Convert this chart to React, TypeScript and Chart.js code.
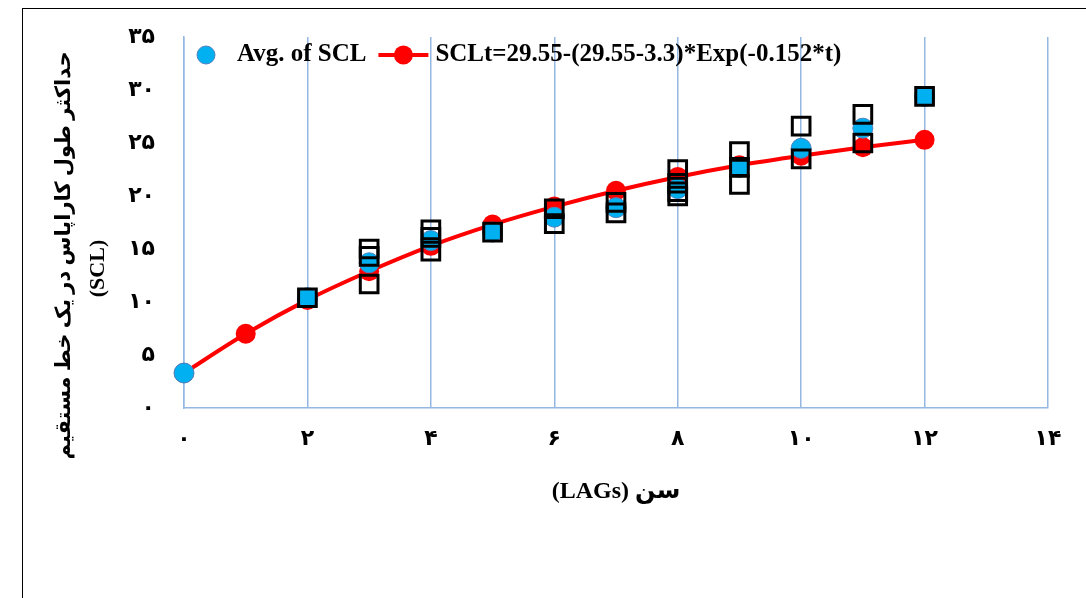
import React, { useEffect, useRef } from 'react';
import { Chart, registerables } from 'chart.js';

Chart.register(...registerables);

// ---- data ----
const avgAge = [0, 2, 3, 4, 5, 6, 7, 8, 9, 10, 11, 12];
const avgSCL = [3.3, 10.4, 13.7, 15.8, 16.6, 18.0, 18.9, 20.7, 22.7, 24.5, 26.4, 29.4];

const fitAge = [0, 1, 2, 3, 4, 5, 6, 7, 8, 9, 10, 11, 12];
const fitSCL = [3.3, 7.0, 10.2, 12.9, 15.3, 17.3, 19.0, 20.5, 21.8, 22.9, 23.8, 24.6, 25.3];

const obsAge = [2, 3, 3, 3, 4, 4, 4, 5, 6, 6, 7, 7, 8, 8, 8, 8, 9, 9, 9, 10, 10, 11, 11, 12];
const obsSCL = [10.4, 15.0, 14.3, 11.7, 16.8, 16.1, 14.8, 16.6, 18.8, 17.4, 19.4, 18.4, 22.5, 21.2, 20.4, 20.0, 24.2, 22.7, 21.1, 26.6, 23.5, 27.7, 25.0, 29.4];

const xTickLabels = ['۰', '۲', '۴', '۶', '۸', '۱۰', '۱۲', '۱۴'];
const yTickLabels = ['۰', '۵', '۱۰', '۱۵', '۲۰', '۲۵', '۳۰', '۳۵'];

const legendLabels = ['Avg. of SCL', 'SCLt=29.55-(29.55-3.3)*Exp(-0.152*t)'];
const xTitle = '\u202Bسن (LAGs)\u202C';
const yTitleLines = ['حداکثر طول کاراپاس در یک خط مستقیم', '(SCL)'];

const BLUE = '#00B0F0';
const BLUE_EDGE = '#4F81BD';
const RED = '#FF0000';
const GRID = '#95B8E3';
const FONT = "'Liberation Serif', 'DejaVu Sans', serif";

const legendPlugin = {
  id: 'customLegend',
  afterDraw(chart: any) {
    const { ctx, chartArea } = chart;
    const y = chartArea.top + 18;
    let x = chartArea.left + 22;
    ctx.save();
    ctx.beginPath();
    ctx.arc(x, y, 9, 0, Math.PI * 2);
    ctx.fillStyle = BLUE;
    ctx.fill();
    ctx.lineWidth = 1;
    ctx.strokeStyle = BLUE_EDGE;
    ctx.stroke();
    ctx.font = `bold 25px ${FONT}`;
    ctx.fillStyle = '#000';
    ctx.textBaseline = 'middle';
    ctx.textAlign = 'left';
    x += 31;
    ctx.fillText(legendLabels[0], x, y);
    x += ctx.measureText(legendLabels[0]).width + 12;
    ctx.beginPath();
    ctx.moveTo(x, y);
    ctx.lineTo(x + 50, y);
    ctx.strokeStyle = RED;
    ctx.lineWidth = 4;
    ctx.stroke();
    ctx.beginPath();
    ctx.arc(x + 25, y, 9.5, 0, Math.PI * 2);
    ctx.fillStyle = RED;
    ctx.fill();
    x += 57;
    ctx.fillStyle = '#000';
    ctx.fillText(legendLabels[1], x, y);
    ctx.restore();
  },
};

const yTitlePlugin = {
  id: 'yTitle',
  afterDraw(chart: any) {
    const { ctx, chartArea } = chart;
    const cy = (chartArea.top + chartArea.bottom) / 2;
    ctx.save();
    ctx.fillStyle = '#000';
    ctx.textAlign = 'center';
    ctx.textBaseline = 'middle';
    ctx.font = `bold 21px ${FONT}`;
    ctx.translate(chartArea.left - 119, cy + 33);
    ctx.rotate(-Math.PI / 2);
    ctx.fillText(yTitleLines[0], 0, 0);
    ctx.restore();
    ctx.save();
    ctx.fillStyle = '#000';
    ctx.textAlign = 'center';
    ctx.textBaseline = 'middle';
    ctx.font = `bold 22px ${FONT}`;
    ctx.translate(chartArea.left - 86, cy + 46);
    ctx.rotate(-Math.PI / 2);
    ctx.fillText(yTitleLines[1], 0, 0);
    ctx.restore();
  },
};

export default function App() {
  const ref = useRef<HTMLCanvasElement | null>(null);

  useEffect(() => {
    if (!ref.current) return;
    const chart = new Chart(ref.current, {
      type: 'scatter',
      data: {
        datasets: [
          {
            label: 'obs',
            data: obsAge.map((a, i) => ({ x: a, y: obsSCL[i] })),
            pointStyle: 'rect',
            pointRadius: 12.5,
            backgroundColor: 'rgba(0,0,0,0)',
            borderColor: '#000',
            borderWidth: 3,
            clip: false,
            order: 0,
          },
          {
            label: legendLabels[0],
            data: avgAge.map((a, i) => ({ x: a, y: avgSCL[i] })),
            pointStyle: 'circle',
            pointRadius: 10,
            backgroundColor: BLUE,
            borderColor: BLUE_EDGE,
            borderWidth: 1,
            clip: false,
            order: 1,
          },
          {
            label: legendLabels[1],
            type: 'line',
            data: fitAge.map((a, i) => ({ x: a, y: fitSCL[i] })),
            showLine: true,
            borderColor: RED,
            borderWidth: 4,
            backgroundColor: RED,
            pointBackgroundColor: RED,
            pointBorderColor: RED,
            pointRadius: 10,
            pointBorderWidth: 0,
            cubicInterpolationMode: 'monotone',
            clip: false,
            order: 2,
          } as any,
        ],
      },
      options: {
        animation: false,
        responsive: true,
        maintainAspectRatio: false,
        layout: { padding: { left: 0, right: 38, top: 37, bottom: 90 } },
        plugins: {
          legend: { display: false },
          tooltip: { enabled: false },
        },
        scales: {
          x: {
            type: 'linear',
            min: 0,
            max: 14,
            ticks: {
              stepSize: 2,
              padding: 18,
              color: '#000',
              font: { family: FONT, size: 22, weight: 'bold' },
              callback: (_v: any, i: number) => xTickLabels[i],
            },
            grid: { display: true, color: GRID, lineWidth: 1.5, drawTicks: false },
            border: { display: true, color: GRID, width: 1.5 },
            title: {
              display: true,
              text: xTitle,
              color: '#000',
              font: { family: FONT, size: 24, weight: 'bold' },
              padding: { top: 0, bottom: 2 },
            },
            afterFit: (s: any) => {
              s.height = 100;
              s.paddingLeft = 0;
              s.paddingRight = 0;
            },
          },
          y: {
            type: 'linear',
            min: 0,
            max: 35,
            ticks: {
              stepSize: 5,
              padding: 29,
              color: '#000',
              font: { family: FONT, size: 22, weight: 'bold' },
              callback: (_v: any, i: number) => yTickLabels[i],
            },
            grid: { display: false, drawTicks: false },
            border: { display: true, color: GRID, width: 1.5 },
            afterFit: (s: any) => {
              s.width = 184;
              s.paddingTop = 0;
              s.paddingBottom = 0;
            },
          },
        },
      },
      plugins: [legendPlugin, yTitlePlugin],
    } as any);
    return () => chart.destroy();
  }, []);

  return (
    <div style={{ position: 'fixed', left: 0, top: 0, width: 1086, height: 598, background: '#fff', overflow: 'hidden' }}>
      <div
        style={{
          position: 'absolute',
          left: 22,
          top: 8,
          width: 1100,
          height: 700,
          borderLeft: '1.5px solid #000',
          borderTop: '1.5px solid #000',
        }}
      />
      <div style={{ position: 'absolute', left: 0, top: 0, width: 1086, height: 598 }}>
        <canvas ref={ref} />
      </div>
    </div>
  );
}
